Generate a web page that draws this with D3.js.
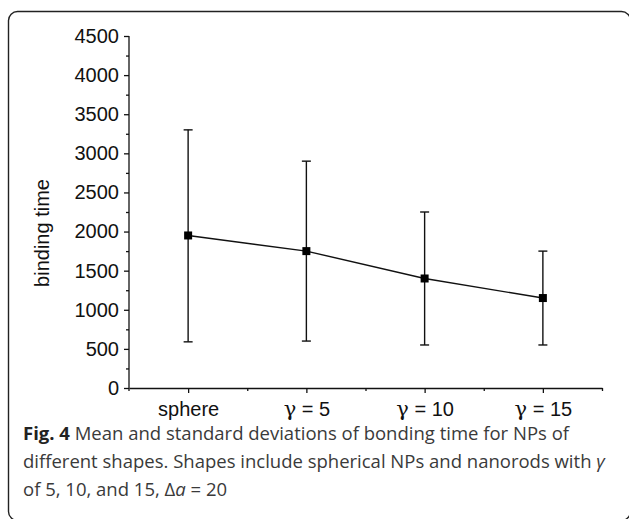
<!DOCTYPE html>
<html>
<head>
<meta charset="utf-8">
<script src="https://cdn.jsdelivr.net/npm/d3@7"></script>
<style>
  html, body { margin: 0; padding: 0; background: #fff; }
  svg { display: block; }
</style>
</head>
<body>
<script>
// Binding time per NP shape: mean with standard-deviation range
const categories = ["sphere", "γ = 5", "γ = 10", "γ = 15"];
const meanValues = [1950, 1750, 1400, 1150];
const lowerValues = [590, 600, 550, 550];
const upperValues = [3300, 2900, 2250, 1750];
const yTickValues = [0, 500, 1000, 1500, 2000, 2500, 3000, 3500, 4000, 4500];
const yMinorTickValues = [250, 750, 1250, 1750, 2250, 2750, 3250, 3750, 4250];
const yTitle = "binding time";

const W = 629, H = 519;
const svg = d3.select("body").append("svg").attr("width", W).attr("height", H);

// Rounded figure frame (right and bottom edges run to the page border)
svg.append("rect")
  .attr("x", 8.5).attr("y", 11.5)
  .attr("width", 622).attr("height", 509)
  .attr("rx", 9).attr("ry", 9)
  .attr("fill", "none").attr("stroke", "#222").attr("stroke-width", 1.4);

const x = d3.scaleLinear().domain([0.5, 4.5]).range([129, 602]);
const y = d3.scaleLinear().domain([0, 4500]).range([388, 36]);

const axisColor = "#111";
const tickFont = "'Liberation Sans', Arial, sans-serif";
const tickSize = "20px";

// Y axis: major ticks with labels, minor ticks between
const yAxis = d3.axisLeft(y).tickValues(yTickValues).tickFormat(d3.format("d"))
  .tickSize(5).tickPadding(5).tickSizeOuter(0);
const gy = svg.append("g").attr("transform", `translate(${x(0.5)},0)`).call(yAxis);
gy.select(".domain").attr("d", `M0,${y(4500)}V${y(0) + 3}`);
svg.append("g").attr("transform", `translate(${x(0.5)},0)`)
  .call(d3.axisLeft(y).tickValues(yMinorTickValues).tickSize(3).tickFormat(""))
  .select(".domain").remove();

// X axis: categories at integer positions, minor ticks at half steps
const xAxis = d3.axisBottom(x).tickValues([1, 2, 3, 4])
  .tickFormat(d => categories[d - 1]).tickSize(5).tickPadding(9).tickSizeOuter(0);
const gx = svg.append("g").attr("transform", `translate(0,${y(0)})`).call(xAxis);
svg.append("g").attr("transform", `translate(0,${y(0)})`)
  .call(d3.axisBottom(x).tickValues([1.5, 2.5, 3.5, 4.5]).tickSize(3).tickFormat(""))
  .select(".domain").remove();

svg.selectAll(".domain, .tick line")
  .attr("stroke", axisColor).attr("stroke-width", 1.3);
svg.selectAll(".tick text")
  .attr("fill", "#111")
  .style("font-family", tickFont)
  .style("font-size", tickSize);

// Draw the Greek gamma of the category labels in a serif face
gx.selectAll(".tick text").each(function(d) {
  const label = categories[d - 1];
  if (label.startsWith("γ")) {
    const t = d3.select(this).text("");
    t.append("tspan").style("font-family", "'DejaVu Serif', serif").style("font-size", "21px").text("γ");
    t.append("tspan").text(label.slice(1));
  }
});

// Y title
svg.append("text")
  .attr("transform", `translate(49,233) rotate(-90)`)
  .attr("text-anchor", "middle")
  .style("font-family", tickFont)
  .style("font-size", tickSize)
  .attr("fill", "#111")
  .text(yTitle);

const pts = categories.map((c, i) => ({
  pos: i + 1, mean: meanValues[i], lo: lowerValues[i], hi: upperValues[i]
}));

// Error bars
const eb = svg.append("g").attr("stroke", "#111").attr("stroke-width", 1.4).attr("fill", "none");
pts.forEach(p => {
  eb.append("line").attr("x1", x(p.pos)).attr("x2", x(p.pos)).attr("y1", y(p.hi)).attr("y2", y(p.lo));
  eb.append("line").attr("x1", x(p.pos) - 4.5).attr("x2", x(p.pos) + 4.5).attr("y1", y(p.hi)).attr("y2", y(p.hi));
  eb.append("line").attr("x1", x(p.pos) - 4.5).attr("x2", x(p.pos) + 4.5).attr("y1", y(p.lo)).attr("y2", y(p.lo));
});

// Mean line
svg.append("path")
  .datum(pts)
  .attr("fill", "none").attr("stroke", "#111").attr("stroke-width", 1.4)
  .attr("d", d3.line().x(d => x(d.pos)).y(d => y(d.mean)));

// Square markers
svg.selectAll("rect.mk").data(pts).join("rect")
  .attr("class", "mk")
  .attr("x", d => x(d.pos) - 4).attr("y", d => y(d.mean) - 4)
  .attr("width", 8).attr("height", 8)
  .attr("fill", "#000");

// Caption
const capFont = "'Open Sans', 'Noto Sans', sans-serif";
const cap = svg.append("g").style("font-family", capFont).style("font-size", "18.5px").attr("fill", "#3a3a3a");
const l1 = cap.append("text").attr("x", 23).attr("y", 440);
l1.append("tspan").attr("font-weight", "bold").attr("fill", "#222").text("Fig. 4");
l1.append("tspan").text(" Mean and standard deviations of bonding time for NPs of");
const l2 = cap.append("text").attr("x", 23).attr("y", 468);
l2.append("tspan").text("different shapes. Shapes include spherical NPs and nanorods with ");
l2.append("tspan").attr("font-style", "italic").text("γ");
const l3 = cap.append("text").attr("x", 23).attr("y", 496);
l3.append("tspan").text("of 5, 10, and 15, ");
l3.append("tspan").text("Δ");
l3.append("tspan").attr("font-style", "italic").text("a");
l3.append("tspan").text(" = 20");
</script>
</body>
</html>
